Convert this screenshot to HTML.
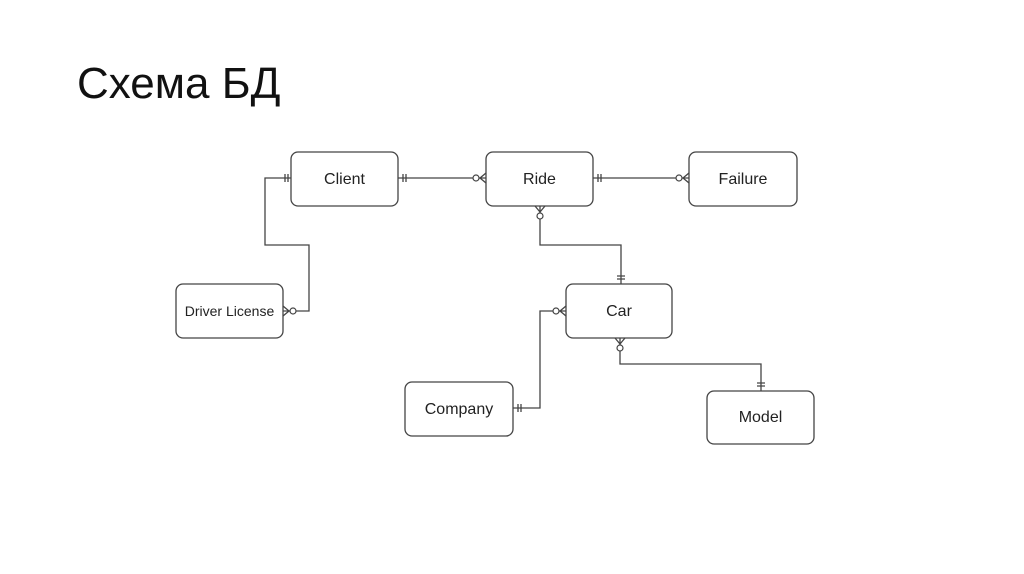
<!DOCTYPE html>
<html><head><meta charset="utf-8"><style>
html,body{margin:0;padding:0;background:#fff;}
body{width:1024px;height:574px;position:relative;overflow:hidden;font-family:"Liberation Sans",sans-serif;}
h1{position:absolute;left:77px;top:58px;margin:0;font-weight:normal;font-size:44px;color:#111;line-height:52px;}
svg{position:absolute;left:0;top:0;}
</style></head><body>
<h1>Схема БД</h1>
<svg width="1024" height="574" viewBox="0 0 1024 574">
<g fill="#fff" stroke="#444" stroke-width="1.3">
<rect x="291" y="152" width="107" height="54" rx="7"/>
<rect x="486" y="152" width="107" height="54" rx="7"/>
<rect x="689" y="152" width="108" height="54" rx="7"/>
<rect x="176" y="284" width="107" height="54" rx="7"/>
<rect x="566" y="284" width="106" height="54" rx="7"/>
<rect x="405" y="382" width="108" height="54" rx="7"/>
<rect x="707" y="391" width="107" height="53" rx="7"/>
</g>
<g fill="none" stroke="#444" stroke-width="1.3">
<path d="M398 178H486"/>
<path d="M593 178H689"/>
<path d="M291 178H265V245H309V311H283"/>
<path d="M540 206V245H621V284"/>
<path d="M566 311H540V408H513"/>
<path d="M620 338V364H761V391"/>
<!-- one marks -->
<path d="M285 174v8M288 174v8"/>
<path d="M403 174v8M406 174v8"/>
<path d="M598 174v8M601 174v8"/>
<path d="M617 276h8M617 279h8"/>
<path d="M757 383h8M757 386h8"/>
<path d="M518 404v8M521 404v8"/>
<!-- crows feet -->
<path d="M486 173L480 178L486 183"/>
<path d="M689 173L683 178L689 183"/>
<path d="M566 306L560 311L566 316"/>
<path d="M283 306L289 311L283 316"/>
<path d="M535 206L540 212L545 206"/>
<path d="M615 338L620 344L625 338"/>
</g>
<g fill="#fff" stroke="#444" stroke-width="1.2">
<circle cx="476" cy="178" r="3"/>
<circle cx="679" cy="178" r="3"/>
<circle cx="556" cy="311" r="3"/>
<circle cx="293" cy="311" r="3"/>
<circle cx="540" cy="216" r="3"/>
<circle cx="620" cy="348" r="3"/>
</g>
<g font-family="Liberation Sans, sans-serif" font-size="16" fill="#222" text-anchor="middle">
<text x="344.5" y="184">Client</text>
<text x="539.5" y="184">Ride</text>
<text x="743" y="184">Failure</text>
<text x="229.5" y="316" font-size="14">Driver License</text>
<text x="619" y="316">Car</text>
<text x="459" y="414">Company</text>
<text x="760.5" y="422">Model</text>
</g>
</svg>
</body></html>
